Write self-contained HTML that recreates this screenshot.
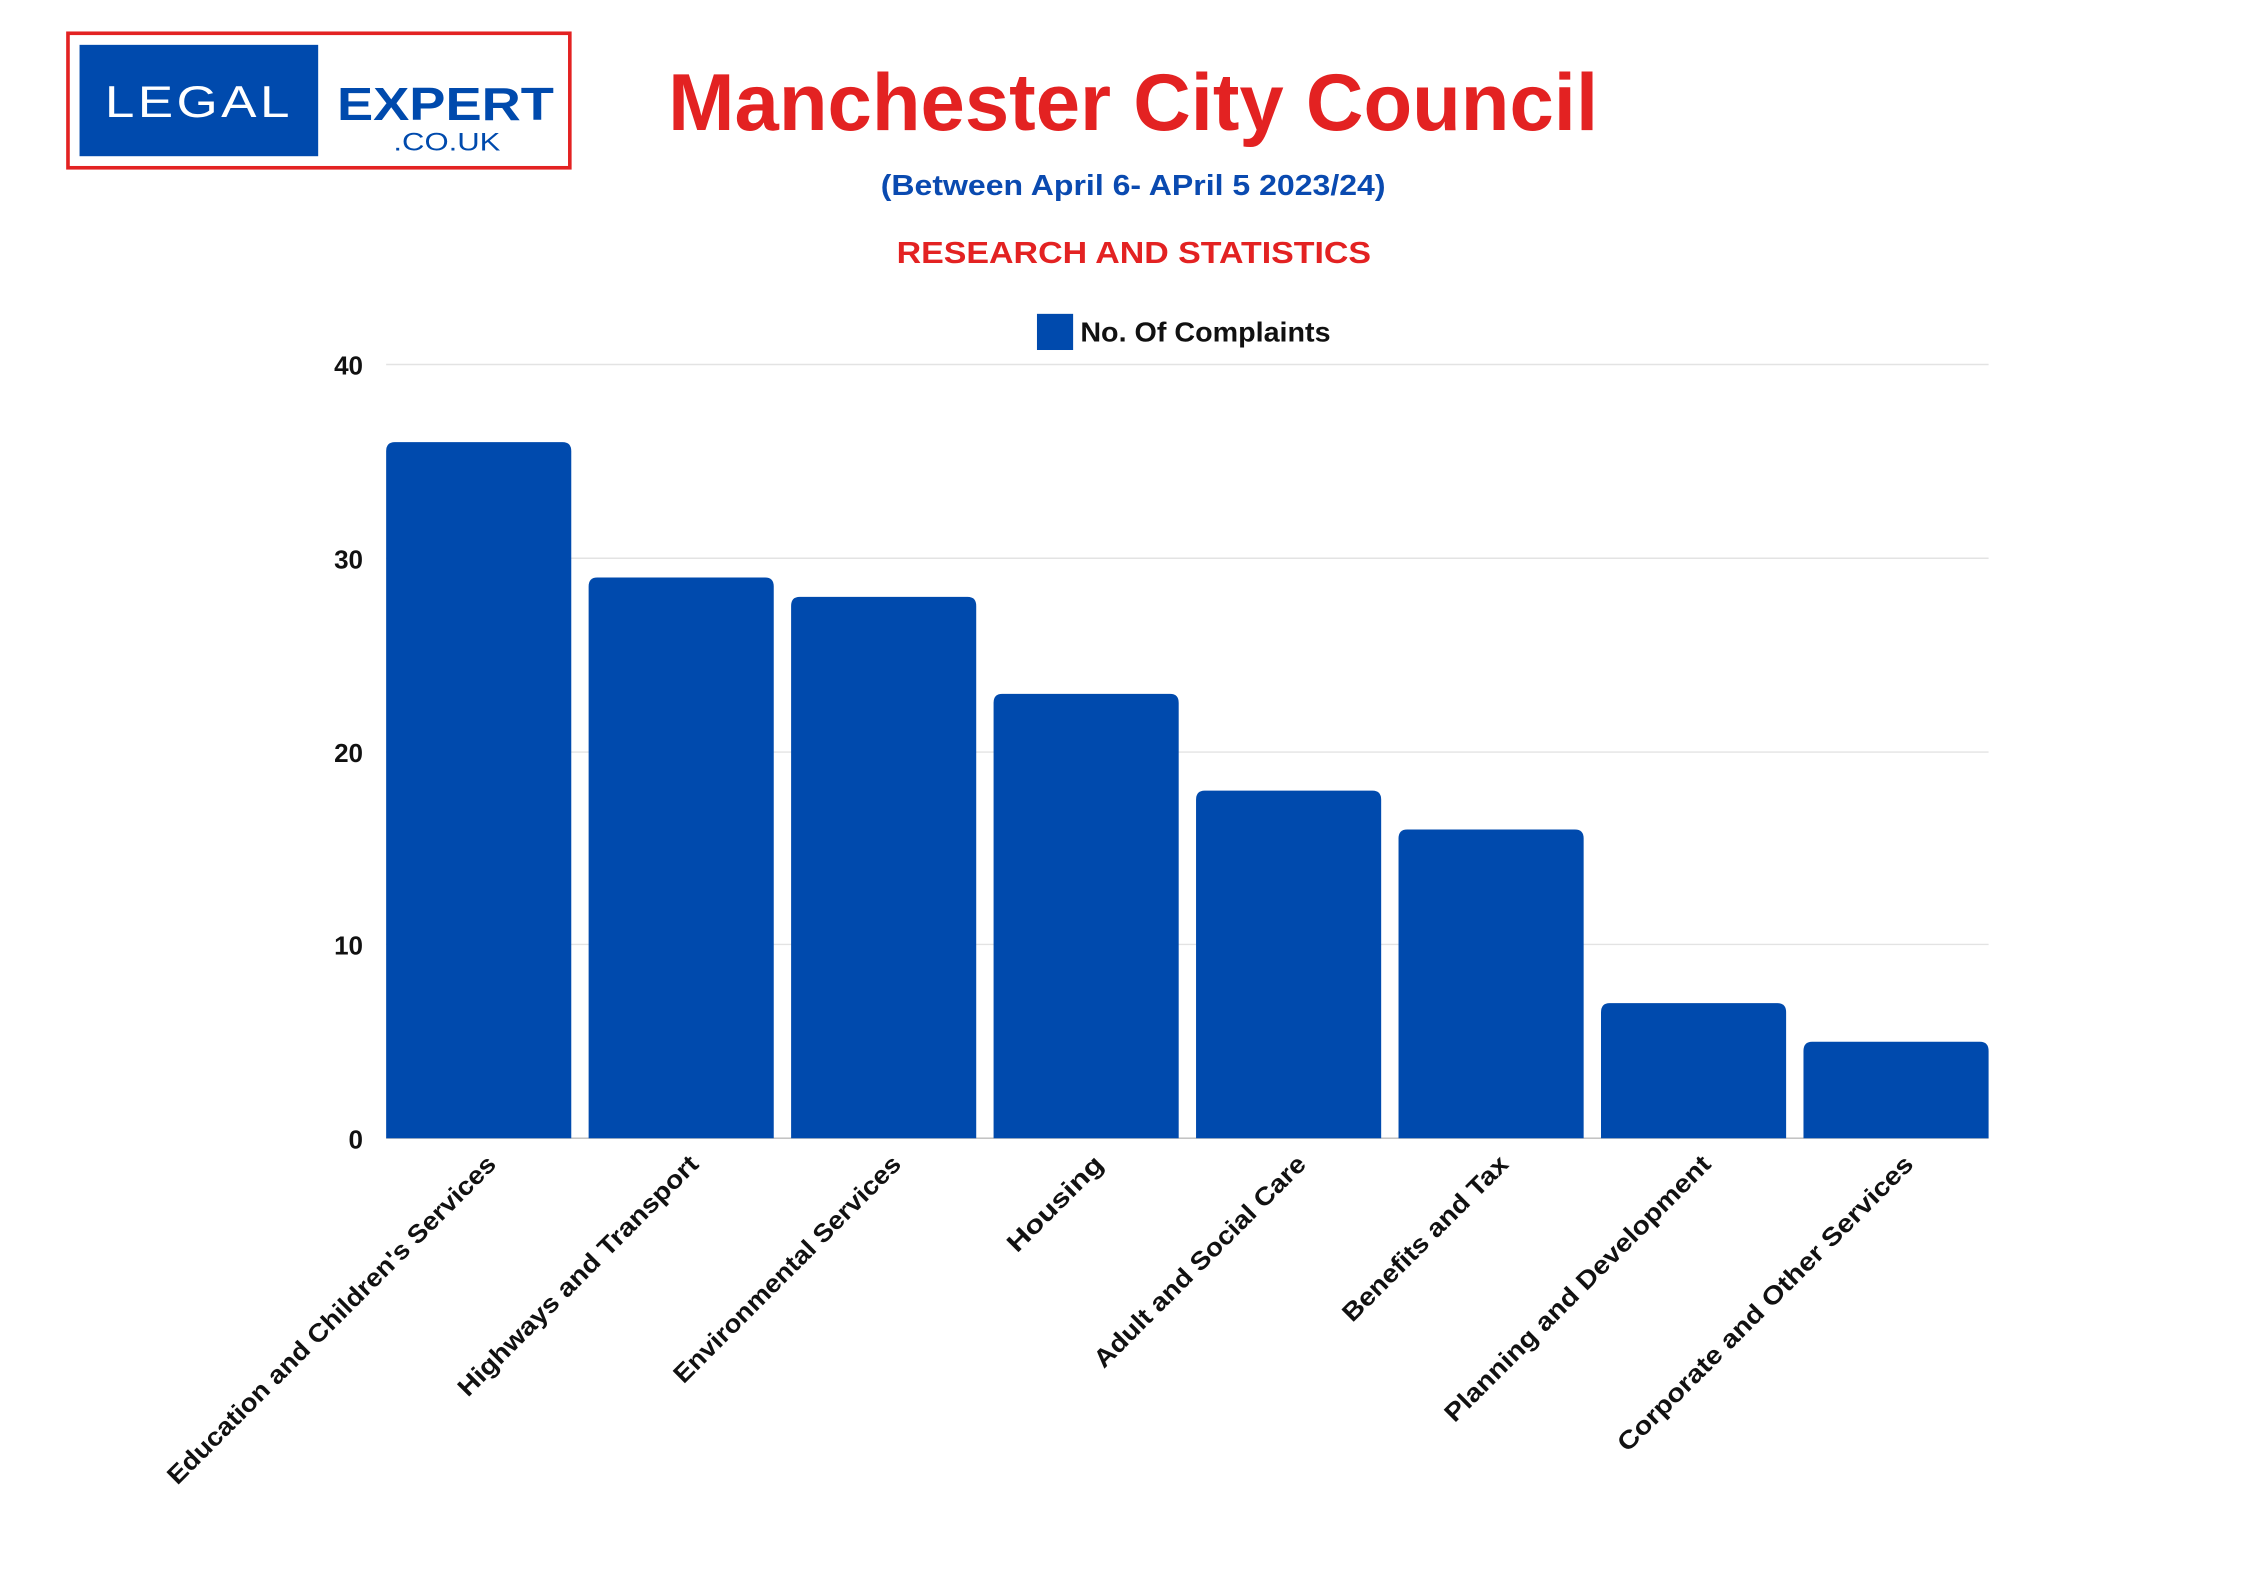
<!DOCTYPE html>
<html><head><meta charset="utf-8"><style>
html,body{margin:0;padding:0;background:#fff;}
svg{display:block;}
text{font-family:"Liberation Sans",sans-serif;}
</style></head><body>
<svg width="2267" height="1587" viewBox="0 0 1567.5 1097.3" xmlns="http://www.w3.org/2000/svg">
<rect width="1567.5" height="1097.3" fill="#fff"/>
<!-- logo -->
<rect x="47" y="23" width="347" height="93" fill="#fff" stroke="#e32222" stroke-width="2.5"/>
<rect x="55" y="31" width="165" height="77" fill="#004aad"/>
<text x="137.5" y="81" font-size="31" fill="#fff" text-anchor="middle" textLength="130" lengthAdjust="spacingAndGlyphs" letter-spacing="2">LEGAL</text>
<text x="308" y="83" font-size="32" font-weight="bold" fill="#004aad" text-anchor="middle" textLength="150" lengthAdjust="spacingAndGlyphs">EXPERT</text>
<text x="309" y="104" font-size="17" fill="#004aad" text-anchor="middle" textLength="74" lengthAdjust="spacingAndGlyphs">.CO.UK</text>
<!-- titles -->
<text x="783.5" y="90" font-size="56" font-weight="bold" fill="#e32222" text-anchor="middle" textLength="643" lengthAdjust="spacingAndGlyphs">Manchester City Council</text>
<text x="783.5" y="135" font-size="20" font-weight="bold" fill="#0a4ab0" text-anchor="middle" textLength="349" lengthAdjust="spacingAndGlyphs">(Between April 6- APril 5 2023/24)</text>
<text x="784" y="182" font-size="21" font-weight="bold" fill="#e32222" text-anchor="middle" textLength="328" lengthAdjust="spacingAndGlyphs">RESEARCH AND STATISTICS</text>
<!-- legend -->
<rect x="717" y="217" width="25" height="25" fill="#004aad"/>
<text x="747" y="236" font-size="19" font-weight="bold" fill="#111" textLength="173" lengthAdjust="spacingAndGlyphs">No. Of Complaints</text>
<!-- grid -->
<g stroke="#e3e3e3" stroke-width="1">
<line x1="267" y1="252" x2="1375" y2="252"/>
<line x1="267" y1="386" x2="1375" y2="386"/>
<line x1="267" y1="520" x2="1375" y2="520"/>
<line x1="267" y1="653" x2="1375" y2="653"/>
</g>
<line x1="267" y1="787" x2="1375" y2="787" stroke="#bbb" stroke-width="1"/>
<g font-size="18" font-weight="bold" fill="#111" text-anchor="end">
<text x="251" y="259">40</text>
<text x="251" y="393">30</text>
<text x="251" y="527">20</text>
<text x="251" y="660">10</text>
<text x="251" y="794">0</text>
</g>
<!-- bars -->
<g fill="#004aad">
<path d="M267,787 V312 Q267,305.7 273,305.7 H389 Q395,305.7 395,312 V787 Z"/>
<path d="M407,787 V405.5 Q407,399.3 413,399.3 H529 Q535,399.3 535,405.5 V787 Z"/>
<path d="M547,787 V419 Q547,412.7 553,412.7 H669 Q675,412.7 675,419 V787 Z"/>
<path d="M687,787 V486 Q687,479.8 693,479.8 H809 Q815,479.8 815,486 V787 Z"/>
<path d="M827,787 V553 Q827,546.7 833,546.7 H949 Q955,546.7 955,553 V787 Z"/>
<path d="M967,787 V579.7 Q967,573.5 973,573.5 H1089 Q1095,573.5 1095,579.7 V787 Z"/>
<path d="M1107,787 V700 Q1107,693.6 1113,693.6 H1229 Q1235,693.6 1235,700 V787 Z"/>
<path d="M1247,787 V726.7 Q1247,720.3 1253,720.3 H1369 Q1375,720.3 1375,726.7 V787 Z"/>
</g>
<!-- x labels -->
<g font-size="17.5" font-weight="bold" fill="#111" text-anchor="end">
<text transform="translate(344,806) rotate(-45)" textLength="313" lengthAdjust="spacingAndGlyphs">Education and Children's Services</text>
<text transform="translate(484,806) rotate(-45)" textLength="227" lengthAdjust="spacingAndGlyphs">Highways and Transport</text>
<text transform="translate(624,806) rotate(-45)" textLength="214" lengthAdjust="spacingAndGlyphs">Environmental Services</text>
<text transform="translate(764,806) rotate(-45)" textLength="86" lengthAdjust="spacingAndGlyphs">Housing</text>
<text transform="translate(904,806) rotate(-45)" textLength="199" lengthAdjust="spacingAndGlyphs">Adult and Social Care</text>
<text transform="translate(1044,806) rotate(-45)" textLength="154" lengthAdjust="spacingAndGlyphs">Benefits and Tax</text>
<text transform="translate(1184,806) rotate(-45)" textLength="252" lengthAdjust="spacingAndGlyphs">Planning and Development</text>
<text transform="translate(1324,806) rotate(-45)" textLength="281" lengthAdjust="spacingAndGlyphs">Corporate and Other Services</text>
</g>
</svg>
</body></html>
